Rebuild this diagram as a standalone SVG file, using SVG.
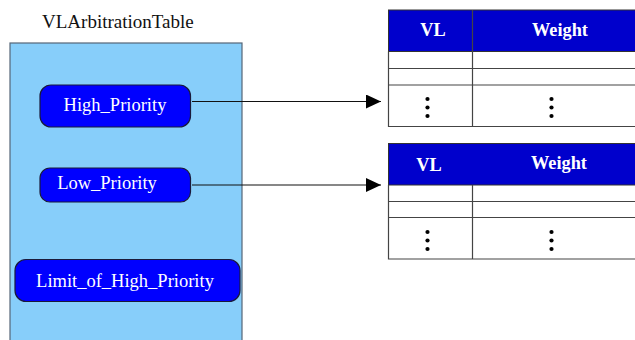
<svg xmlns="http://www.w3.org/2000/svg" width="635" height="340" viewBox="0 0 635 340">
  <style>
    .title { font-family: "Liberation Serif", "Times New Roman", serif; font-size: 19px; fill: #111; }
    .node rect { fill: #0000FF; stroke: #1a1a3a; stroke-width: 1.2; }
    .node text { font-family: "Liberation Serif", "Times New Roman", serif; font-size: 18.5px; fill: #ffffff; text-anchor: middle; }
    .hdr { fill: #0000CC; stroke: #333; stroke-width: 1; }
    .hdr-text { font-family: "Liberation Serif", "Times New Roman", serif; font-size: 18.3px; font-weight: bold; fill: #ffffff; text-anchor: middle; }
    .grid { fill: none; stroke: #444; stroke-width: 1.2; }
    .dot { fill: #000; }
    .conn { stroke: #111; stroke-width: 1.2; fill: none; }
  </style>
  <defs>
    <marker id="arrow" markerWidth="16" markerHeight="14" refX="15" refY="7" orient="auto" markerUnits="userSpaceOnUse">
      <path d="M0,0 L15,7 L0,14 Z" fill="#000"/>
    </marker>
    <g id="dots">
      <circle cx="0" cy="0" r="2.1" class="dot"/>
      <circle cx="0" cy="8.5" r="2.1" class="dot"/>
      <circle cx="0" cy="17" r="2.1" class="dot"/>
    </g>
  </defs>

  <rect width="635" height="340" fill="#ffffff"/>

  <!-- container -->
  <g id="vlarbitrationtable">
    <text class="title" x="42" y="28">VLArbitrationTable</text>
    <rect x="10" y="43" width="232" height="310" fill="#87CEFA" stroke="#556677" stroke-width="1.2"/>
  </g>

  <g id="high_priority" class="node">
    <rect x="40" y="85" width="150.5" height="42" rx="11" ry="11"/>
    <text x="115" y="110.5">High_Priority</text>
  </g>

  <g id="low_priority" class="node">
    <rect x="40" y="168" width="150.5" height="34" rx="10" ry="10"/>
    <text x="107" y="188.5">Low_Priority</text>
  </g>

  <g id="limit_of_high_priority" class="node">
    <rect x="15" y="259.5" width="225" height="42" rx="11" ry="11"/>
    <text x="125" y="287">Limit_of_High_Priority</text>
  </g>

  <!-- high priority table -->
  <g id="table_high">
    <rect class="hdr" x="388.5" y="10" width="260" height="41.5"/>
    <text class="hdr-text" x="433" y="35.5">VL</text>
    <text class="hdr-text" x="560" y="35.5">Weight</text>
    <path class="grid" d="M388.5,51.5 V126.5 H650 M388.5,68.5 H650 M388.5,85 H650 M472.5,10 V126.5"/>
    <use href="#dots" x="427.5" y="99"/>
    <use href="#dots" x="551.5" y="99"/>
  </g>

  <!-- low priority table -->
  <g id="table_low">
    <rect class="hdr" x="388.5" y="143.5" width="260" height="41.5"/>
    <text class="hdr-text" x="429" y="170.5">VL</text>
    <text class="hdr-text" x="559" y="168.5">Weight</text>
    <path class="grid" d="M388.5,185 V259 H650 M388.5,201.5 H650 M388.5,217.5 H650 M472.5,185 V259"/>
    <use href="#dots" x="427.5" y="232"/>
    <use href="#dots" x="551.5" y="232"/>
  </g>

  <!-- connectors -->
  <g id="connectors">
    <line class="conn" x1="192" y1="101.5" x2="381" y2="101.5" marker-end="url(#arrow)"/>
    <line class="conn" x1="192" y1="185" x2="381" y2="185" marker-end="url(#arrow)"/>
  </g>
</svg>
